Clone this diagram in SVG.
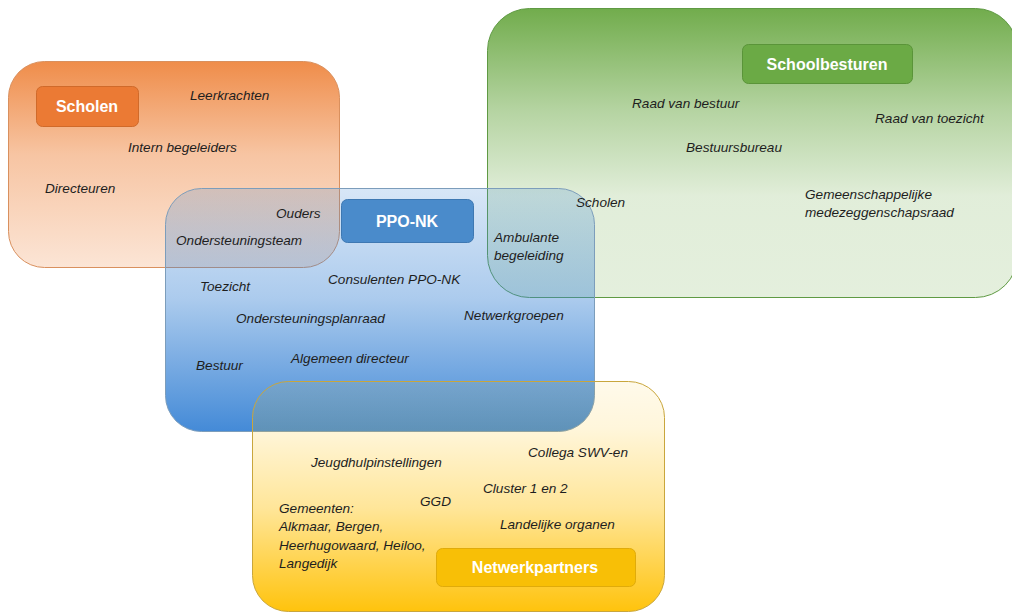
<svg xmlns="http://www.w3.org/2000/svg" width="1012" height="614" viewBox="0 0 1012 614">
<defs>
<linearGradient id="gOr" x1="0" y1="0" x2="0" y2="1">
<stop offset="0" stop-color="#ED7D31" stop-opacity="0.88"/><stop offset="0.45" stop-color="#ED7D31" stop-opacity="0.45"/><stop offset="1" stop-color="#ED7D31" stop-opacity="0.2"/>
</linearGradient>
<linearGradient id="gGr" x1="0" y1="0" x2="0" y2="1">
<stop offset="0" stop-color="#6AA843" stop-opacity="0.95"/><stop offset="0.35" stop-color="#6AA843" stop-opacity="0.5"/><stop offset="0.65" stop-color="#6AA843" stop-opacity="0.2"/><stop offset="1" stop-color="#6AA843" stop-opacity="0.18"/>
</linearGradient>
<linearGradient id="gBl" x1="0" y1="0" x2="0" y2="1">
<stop offset="0" stop-color="#3A84D5" stop-opacity="0.2"/><stop offset="0.45" stop-color="#3A84D5" stop-opacity="0.42"/><stop offset="1" stop-color="#3A84D5" stop-opacity="0.95"/>
</linearGradient>
<linearGradient id="gYe" x1="0" y1="0" x2="0" y2="1">
<stop offset="0" stop-color="#FFC000" stop-opacity="0.08"/><stop offset="0.2" stop-color="#FFC000" stop-opacity="0.14"/><stop offset="0.55" stop-color="#FFC000" stop-opacity="0.4"/><stop offset="1" stop-color="#FFC000" stop-opacity="0.95"/>
</linearGradient>
<style>
.t{font-family:"Liberation Sans",Arial,sans-serif;font-style:italic;font-size:13.6px;fill:#1e1e1e}
.lb{font-family:"Liberation Sans",Arial,sans-serif;font-weight:bold;font-size:16px;fill:#ffffff;text-anchor:middle}
</style>
</defs>
<rect width="1012" height="614" fill="#ffffff"/>

<g id="scholen">
<rect x="8.5" y="61.5" width="331" height="206" rx="36" fill="url(#gOr)" stroke="#D9905E" stroke-width="1"/>
</g>
<g id="schoolbesturen">
<rect x="487.5" y="8.5" width="530" height="289" rx="42" fill="url(#gGr)" stroke="#5F9A43" stroke-width="1"/>
</g>
<g id="ppo-nk">
<rect x="165.5" y="188.5" width="429" height="243" rx="36" fill="url(#gBl)" stroke="#7C9DBB" stroke-width="1"/>
</g>
<g id="netwerkpartners">
<rect x="252.5" y="381.5" width="412" height="230" rx="36" fill="url(#gYe)" stroke="#C9A63C" stroke-width="1"/>
</g>

<g id="labels">
<g id="label-scholen">
<rect x="36.5" y="86.5" width="102" height="40" rx="6" fill="#EB7A34" stroke="#D06A2A"/>
<text class="lb" x="87" y="112">Scholen</text>
</g>
<g id="label-schoolbesturen">
<rect x="742.5" y="44.5" width="170" height="39" rx="6" fill="#6BAA45" stroke="#5A9439"/>
<text class="lb" x="827" y="70">Schoolbesturen</text>
</g>
<g id="label-ppo">
<rect x="341.5" y="199.5" width="132" height="43" rx="6" fill="#4A8BCB" stroke="#3E78B2"/>
<text class="lb" x="407" y="227">PPO-NK</text>
</g>
<g id="label-netwerk">
<rect x="436.5" y="548.5" width="199" height="38" rx="6" fill="#F8BF06" stroke="#E0AB0A"/>
<text class="lb" x="535" y="573">Netwerkpartners</text>
</g>
</g>

<g id="texts">
<text class="t" x="190" y="100">Leerkrachten</text>
<text class="t" x="128" y="152">Intern begeleiders</text>
<text class="t" x="45" y="193">Directeuren</text>
<text class="t" x="276" y="218">Ouders</text>
<text class="t" x="176" y="245">Ondersteuningsteam</text>
<text class="t" x="200" y="291">Toezicht</text>
<text class="t" x="328" y="284">Consulenten PPO-NK</text>
<text class="t" x="236" y="323">Ondersteuningsplanraad</text>
<text class="t" x="464" y="320">Netwerkgroepen</text>
<text class="t" x="196" y="370">Bestuur</text>
<text class="t" x="291" y="363">Algemeen directeur</text>
<text class="t" x="494" y="242">Ambulante</text>
<text class="t" x="494" y="260">begeleiding</text>
<text class="t" x="576" y="207">Scholen</text>
<text class="t" x="632" y="108">Raad van bestuur</text>
<text class="t" x="875" y="123">Raad van toezicht</text>
<text class="t" x="686" y="152">Bestuursbureau</text>
<text class="t" x="805" y="199">Gemeenschappelijke</text>
<text class="t" x="805" y="217">medezeggenschapsraad</text>
<text class="t" x="311" y="467">Jeugdhulpinstellingen</text>
<text class="t" x="528" y="457">Collega SWV-en</text>
<text class="t" x="483" y="493">Cluster 1 en 2</text>
<text class="t" x="420" y="506">GGD</text>
<text class="t" x="279" y="513">Gemeenten:</text>
<text class="t" x="279" y="531">Alkmaar, Bergen,</text>
<text class="t" x="279" y="550">Heerhugowaard,  Heiloo,</text>
<text class="t" x="279" y="568">Langedijk</text>
<text class="t" x="500" y="529">Landelijke organen</text>
</g>
</svg>
